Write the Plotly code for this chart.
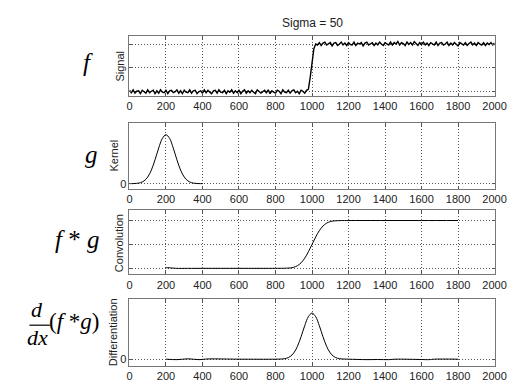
import plotly.graph_objects as go

# ---------------- data ----------------
title_text = "Sigma = 50"
x_ticks = [0, 200, 400, 600, 800, 1000, 1200, 1400, 1600, 1800, 2000]
panel_titles = ["Signal", "Kernel", "Convolution", "Differentiation"]

# signal f (noisy step), sampled every 10 units
signal_x = list(range(0, 2001, 10))
signal_low = [0.03, -0.02, 0.04, -0.03, 0.01, 0.02, -0.04, 0.03, 0.00, -0.03,
              0.04, -0.02, 0.01, 0.03, -0.04, 0.02, -0.03, 0.04, -0.01, -0.02,
              0.03, -0.04, 0.02, 0.03, -0.02, 0.00, 0.04, -0.03, 0.02, -0.04,
              0.03, -0.01, -0.02, 0.04, -0.03, 0.02, 0.03, -0.04, 0.00, 0.02,
              -0.03, 0.04, -0.02, 0.03, -0.01, -0.04, 0.02, 0.03, -0.03, 0.04,
              -0.01, -0.02, 0.03, -0.04, 0.02, -0.01, 0.04, -0.03, 0.02, -0.02,
              0.03, -0.04, 0.01, 0.04, -0.03, 0.02, -0.02, 0.03, -0.01, -0.04,
              0.04, 0.01, -0.03, 0.00, 0.03, -0.02, 0.04, -0.04, 0.02, -0.01,
              -0.03, 0.03, 0.01, -0.04, 0.04, -0.01, -0.02, 0.03, -0.03, 0.02,
              0.04, -0.02, 0.01, -0.04, 0.03, 0.01, -0.03, 0.03]
signal_ramp = [0.05, 0.30, 0.60, 0.90, 1.00]
signal_high = [0.98, 1.03, 0.97, 1.02, 1.04, 0.98, 1.01, 1.03, 0.96, 1.02,
               1.03, 0.97, 1.00, 1.04, 0.98, 1.02, 0.97, 1.03, 0.99, 0.98,
               1.04, 0.97, 1.02, 1.00, 1.03, 0.96, 1.02, 1.04, 0.98, 1.01,
               1.03, 0.97, 1.02, 0.98, 1.04, 1.00, 0.97, 1.03, 1.01, 0.98,
               1.04, 0.98, 1.03, 1.00, 1.05, 0.98, 1.03, 1.01, 0.97, 1.04,
               0.99, 1.03, 0.98, 1.05, 1.01, 0.97, 1.03, 0.99, 1.04, 0.98,
               1.02, 0.97, 1.03, 1.00, 0.98, 1.04, 0.97, 1.02, 1.03, 0.98,
               1.00, 1.04, 0.97, 1.02, 0.98, 1.03, 1.00, 0.96, 1.03, 1.01,
               0.98, 1.03, 0.97, 1.01, 1.04, 0.98, 1.02, 0.97, 1.03, 1.00,
               0.98, 1.03, 0.97, 1.02, 0.99, 1.03, 0.98, 1.02]
signal_y = signal_low + signal_ramp + signal_high

# kernel g (Gaussian, sigma 50, centred at 200)
kernel_x = [0, 20, 40, 60, 80, 100, 120, 140, 160, 180, 200,
            220, 240, 260, 280, 300, 320, 340, 360, 380, 400]
kernel_y = [0.0, 0.00001, 0.00005, 0.00016, 0.00045, 0.00108, 0.00222, 0.0039, 0.00581, 0.00738, 0.008,
            0.00738, 0.00581, 0.0039, 0.00222, 0.00108, 0.00045, 0.00016, 0.00005, 0.00001, 0.0]

# convolution f*g (valid part 200..1800)
conv_x = [200, 210, 220, 230, 240, 250, 260, 400, 600, 800, 840, 860, 880, 900, 920, 940,
          960, 980, 1000, 1020, 1040, 1060, 1080, 1100, 1120, 1140, 1160, 1200, 1400, 1600, 1800]
conv_y = [0.01, 0.015, 0.012, 0.008, 0.004, 0.002, 0.0, 0.0, 0.0, 0.0, 0.001, 0.003, 0.008, 0.023, 0.055, 0.115,
          0.212, 0.345, 0.5, 0.655, 0.788, 0.885, 0.945, 0.977, 0.992, 0.997, 0.999, 1.0, 1.0, 1.0, 1.0]

# derivative d/dx (f*g)
diff_x = [200, 260, 320, 380, 430, 600, 800, 840, 860, 880, 900, 920, 940, 960, 980, 1000,
          1020, 1040, 1060, 1080, 1100, 1120, 1140, 1160, 1200, 1300, 1360, 1420, 1460,
          1600, 1640, 1670, 1800]
diff_y = [0.0, -0.00008, 0.00006, -0.00008, 0.00004, 0.0, 0.0, 0.00005, 0.00016, 0.00045, 0.00108,
          0.00222, 0.0039, 0.00581, 0.00738, 0.008, 0.00738, 0.00581, 0.0039, 0.00222, 0.00108,
          0.00045, 0.00016, 0.00005, 0.0, -0.00008, -0.00006, -0.00008, 0.0, -0.00006, -0.00008, 0.0, 0.0]

# ---------------- figure ----------------
W, H = 518, 392
XL, XR = 122, 498
panels = [  # (top px, bottom px, y range, y ticks, y ticktext)
    (28, 88, [-0.085, 1.17], [0, 0.5, 1], ["", "", ""]),
    (115, 181, [-0.0008, 0.00996], [0], ["0"]),
    (203, 267, [-0.125, 1.21], [0, 0.5, 1], ["", "", ""]),
    (292, 359, [-0.0012, 0.0104], [0], ["0"]),
]
series = [(signal_x, signal_y, 1.4, "linear"), (kernel_x, kernel_y, 1.0, "spline"),
          (conv_x, conv_y, 1.0, "spline"), (diff_x, diff_y, 1.0, "spline")]

fig = go.Figure()
font_ax = dict(family="Liberation Sans", size=11, color="#222")
layout = dict(width=W, height=H, margin=dict(l=0, r=0, t=0, b=0),
              paper_bgcolor="white", plot_bgcolor="white", showlegend=False)

for i, ((top, bot, yr, yt, ytt), (sx, sy, lw, shp)) in enumerate(zip(panels, series)):
    n = "" if i == 0 else str(i + 1)
    fig.add_trace(go.Scatter(x=sx, y=sy, mode="lines", line=dict(color="black", width=lw, shape=shp),
                             xaxis="x" + n, yaxis="y" + n, hoverinfo="skip"))
    common = dict(ticks="inside", ticklen=3, tickcolor="#555", showline=True,
                  linecolor="#777", mirror="ticks", showgrid=True, gridcolor="#555",
                  griddash="1px,2px", gridwidth=1, zeroline=False, tickfont=font_ax)
    layout["xaxis" + n] = dict(domain=[XL / W, XR / W], range=[0, 2000], tickvals=x_ticks,
                               anchor="y" + n, **common)
    layout["yaxis" + n] = dict(domain=[1 - bot / H, 1 - top / H], range=yr, tickvals=yt, ticktext=ytt,
                               anchor="x" + n, **common)

fig.update_layout(**layout)

ann = []
ann.append(dict(text=title_text, x=310 / W, y=1 - 15 / H, xref="paper", yref="paper",
                showarrow=False, font=dict(family="Liberation Sans", size=12, color="#222"),
                xanchor="center", yanchor="middle"))
title_pos = [(112, 58), (106, 148), (112, 236), (105, 325)]
for t, (px, py) in zip(panel_titles, title_pos):
    ann.append(dict(text=t, x=px / W, y=1 - py / H, xref="paper", yref="paper", textangle=-90,
                    showarrow=False, font=font_ax, xanchor="center", yanchor="middle"))

serif = "Liberation Serif"
# (text, x px, y px, size, xanchor)
math = [("<i>f</i>", 79, 55, 25, "center"), ("<i>g</i>", 83, 147, 25, "center"),
        ("<i>f</i> * <i>g</i>", 68, 232, 25, "center"),
        ("<i>d</i>", 27, 302, 22, "center"), ("<i>dx</i>", 27, 330, 22, "center"),
        ("(<i>f</i> *<i>g</i>)", 38, 314, 23, "left")]
for t, px, py, fs, xa in math:
    ann.append(dict(text=t, x=px / W, y=1 - py / H, xref="paper", yref="paper", showarrow=False,
                    font=dict(family=serif, size=fs, color="black"), xanchor=xa, yanchor="middle",
                    borderpad=0))
fig.update_layout(annotations=ann)
fig.add_shape(type="line", xref="paper", yref="paper", x0=19 / W, x1=40 / W, y0=1 - 318 / H, y1=1 - 318 / H,
              line=dict(color="black", width=1.2))

fig.write_html("out.html")
